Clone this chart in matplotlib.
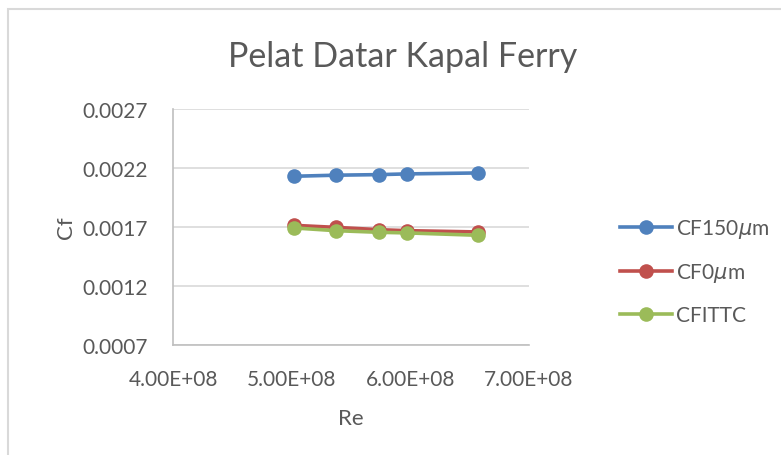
import matplotlib
matplotlib.use("Agg")
import matplotlib.pyplot as plt
from matplotlib.lines import Line2D
from matplotlib.patches import Rectangle

# Reynolds numbers and friction coefficients
re_values = [5.02e8, 5.37e8, 5.74e8, 5.97e8, 6.57e8]
cf_150um = [0.002130, 0.002139, 0.002144, 0.002150, 0.002158]
cf_0um = [0.001714, 0.001697, 0.001677, 0.001669, 0.001658]
cf_ittc = [0.001692, 0.001669, 0.001655, 0.001650, 0.001630]

series_names = ["CF150$\\mu$m", "CF0$\\mu$m", "CFITTC"]
series_colors = ["#4F81BD", "#C0504D", "#9BBB59"]

x_ticks = [4.0e8, 5.0e8, 6.0e8, 7.0e8]
y_ticks = [0.0007, 0.0012, 0.0017, 0.0022, 0.0027]

plt.rcParams['font.family'] = ['Lato', 'DejaVu Sans']
plt.rcParams['mathtext.fontset'] = 'dejavusans'
text_color = "#595959"
grid_color = "#D9D9D9"

W, H = 781, 456
fig = plt.figure(figsize=(W / 100, H / 100), dpi=100)

# outer chart frame
fig.patches.append(Rectangle((8 / W, -0.1), 1.2, 1.1 - 10 / H, transform=fig.transFigure,
                             fill=False, edgecolor=grid_color, linewidth=1.5))

left, right, top, bottom = 173, 529, 110, 346
ax = fig.add_axes([left / W, 1 - bottom / H, (right - left) / W, (bottom - top) / H])

for ys, name, col in zip([cf_150um, cf_0um, cf_ittc], series_names, series_colors):
    ax.plot(re_values, ys, color=col, linewidth=2.6, marker='o', markersize=10.5,
            markeredgewidth=0, label=name, solid_capstyle='round')

ax.set_xlim(4.0e8, 7.0e8)
ax.set_ylim(0.0007, 0.0027)
ax.set_xticks(x_ticks)
ax.set_yticks(y_ticks)
ax.set_xticklabels([f"{v/1e8:.2f}E+08" for v in x_ticks])
ax.set_yticklabels([f"{v:.4f}" for v in y_ticks])
ax.tick_params(length=0, labelsize=15, colors=text_color)
ax.tick_params(axis='y', pad=18)
ax.tick_params(axis='x', pad=17)
ax.grid(axis='y', color=grid_color, linewidth=1.2)
ax.set_axisbelow(True)
for s in ['top', 'right']:
    ax.spines[s].set_visible(False)
for s in ['left', 'bottom']:
    ax.spines[s].set_color("#BFBFBF")
    ax.spines[s].set_linewidth(1.2)

ax.set_xlabel("Re", fontsize=16, color=text_color, labelpad=14)
ax.set_ylabel("Cf", fontsize=16, color=text_color, labelpad=4.5)

fig.text(403 / W, 1 - 57 / H, "Pelat Datar Kapal Ferry", fontsize=24.5, color=text_color,
         ha='center', va='center')

handles = [Line2D([0], [0], color=c, linewidth=2.6, marker='o', markersize=10.5,
                  markeredgewidth=0) for c in series_colors]
leg = fig.legend(handles, series_names, loc='center left',
                 bbox_to_anchor=(601 / W, 1 - 272 / H), frameon=False,
                 fontsize=15, labelspacing=1.0, handlelength=2.5, handletextpad=0.2)
for t in leg.get_texts():
    t.set_color(text_color)

fig.savefig("out.png", dpi=100)
